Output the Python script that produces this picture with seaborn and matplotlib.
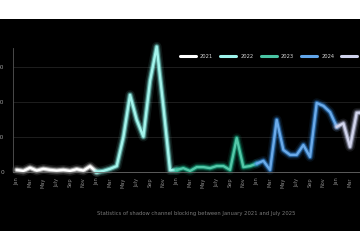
import numpy as np
import pandas as pd
import matplotlib
matplotlib.use("Agg")
import matplotlib.pyplot as plt
import seaborn as sns
from matplotlib.patches import Rectangle
from matplotlib.lines import Line2D
from matplotlib.colors import to_rgb

# ---------------- data ----------------
years = ["2021", "2022", "2023", "2024", "2025"]
v2021 = [0.6, 0.3, 1.2, 0.4, 0.9, 0.6, 0.4, 0.6, 0.3, 0.8, 0.4, 1.6]
v2022 = [0.0, 0.3, 0.9, 1.7, 10.0, 22.0, 14.9, 10.1, 26.0, 35.8, 18.7, 0.5]
v2023 = [0.6, 1.1, 0.3, 1.4, 1.4, 1.1, 1.7, 1.7, 0.6, 9.7, 1.4, 1.7]
v2024 = [2.4, 3.2, 0.6, 14.9, 6.3, 4.9, 4.9, 7.7, 4.3, 19.7, 18.9, 17.1]
v2025 = [12.9, 13.9, 7.2, 16.9, 17.0, 15.0, 16.0]
tick_labels = ["Jan", "Mar", "May", "July", "Sep", "Nov"]
y_ticks = [0, 10, 20, 30]
caption = "Statistics of shadow channel blocking between January 2021 and July 2025"

series = [v2021, v2022, v2023, v2024, v2025]
colors = ["#ffffff", "#86f0e6", "#1bb58c", "#3a8fe3", "#c3c7e6"]

# ---------------- figure ----------------
sns.set_theme(style="dark")
plt.rcParams["font.family"] = ["DejaVu Sans"]

fig = plt.figure(figsize=(3.6, 2.5), dpi=100)
fig.patch.set_facecolor("white")
fig.patches.append(Rectangle((0, 1 - 231 / 250), 1, (231 - 19) / 250,
                             transform=fig.transFigure, facecolor="black",
                             edgecolor="none", zorder=-10))

# axes geometry (pixels of a 360x250 canvas)
px_left, px_bottom, px_top = 12.7, 172.0, 48.0
m0_px, px_per_month = 16.7, 6.667
xmin = (px_left - m0_px) / px_per_month
xmax = 56.0
px_right = m0_px + px_per_month * xmax
ax = fig.add_axes([px_left / 360, 1 - px_bottom / 250,
                   (px_right - px_left) / 360, (px_bottom - px_top) / 250])
ax.set_facecolor("none")

def lighten(c, f):
    r, g, b = to_rgb(c)
    return (r + (1 - r) * f, g + (1 - g) * f, b + (1 - b) * f)

start = 0
for i, (yr, vals, col) in enumerate(zip(years, series, colors)):
    m = list(range(start, start + len(vals)))
    v = list(vals)
    if i + 1 < len(series):
        m.append(start + len(vals))
        v.append(series[i + 1][0])
    df = pd.DataFrame({"month": m, "value": v})
    for lw, a in [(7, 0.10), (4.8, 0.22), (3.2, 0.55)]:
        sns.lineplot(data=df, x="month", y="value", ax=ax, color=col, lw=lw,
                     alpha=a, solid_capstyle="round", solid_joinstyle="round",
                     clip_on=False)
    sns.lineplot(data=df, x="month", y="value", ax=ax, color=lighten(col, 0.25),
                 lw=1.7, solid_capstyle="round", solid_joinstyle="round",
                 clip_on=False)
    start += len(vals)

ax.set_xlim(xmin, xmax)
ax.set_ylim(0, (px_bottom - px_top) / 3.5)
xt = list(range(0, 56, 2))
ax.set_xticks(xt)
ax.set_xticklabels([tick_labels[(k // 2) % 6] for k in xt], rotation=90,
                   fontsize=3.6, color="#8a8a8a")
ax.set_yticks(y_ticks)
ax.set_yticklabels([str(t) for t in y_ticks], fontsize=4.2, color="#9a9a9a")
ax.tick_params(axis="both", length=0)
ax.tick_params(axis="y", pad=6.3)
ax.tick_params(axis="x", pad=4.0)
ax.set_xlabel("")
ax.set_ylabel("")
ax.grid(False)
for t in y_ticks[1:]:
    ax.axhline(t, color="#232323", lw=0.6, zorder=0)
for s in ["top", "right"]:
    ax.spines[s].set_visible(False)
ax.spines["left"].set_color("#555555")
ax.spines["left"].set_linewidth(0.6)
ax.spines["bottom"].set_color("#6a6a6a")
ax.spines["bottom"].set_linewidth(0.6)

# legend
handles = [Line2D([0], [0], color=lighten(c, 0.2), lw=2.2,
                  solid_capstyle="round") for c in colors]
leg = fig.legend(handles, years, loc="center left",
                 bbox_to_anchor=(180 / 360, 1 - 56 / 250), ncol=5,
                 frameon=False, fontsize=3.7, handlelength=3.1,
                 handletextpad=0.8, columnspacing=1.4, borderpad=0,
                 borderaxespad=0)
for t in leg.get_texts():
    t.set_color("#d8d8d8")

fig.text(196 / 360, 1 - 214 / 250, caption, ha="center", va="center",
         fontsize=3.75, color="#7a7a7a")

fig.savefig("out.png", dpi=100, facecolor="white")
